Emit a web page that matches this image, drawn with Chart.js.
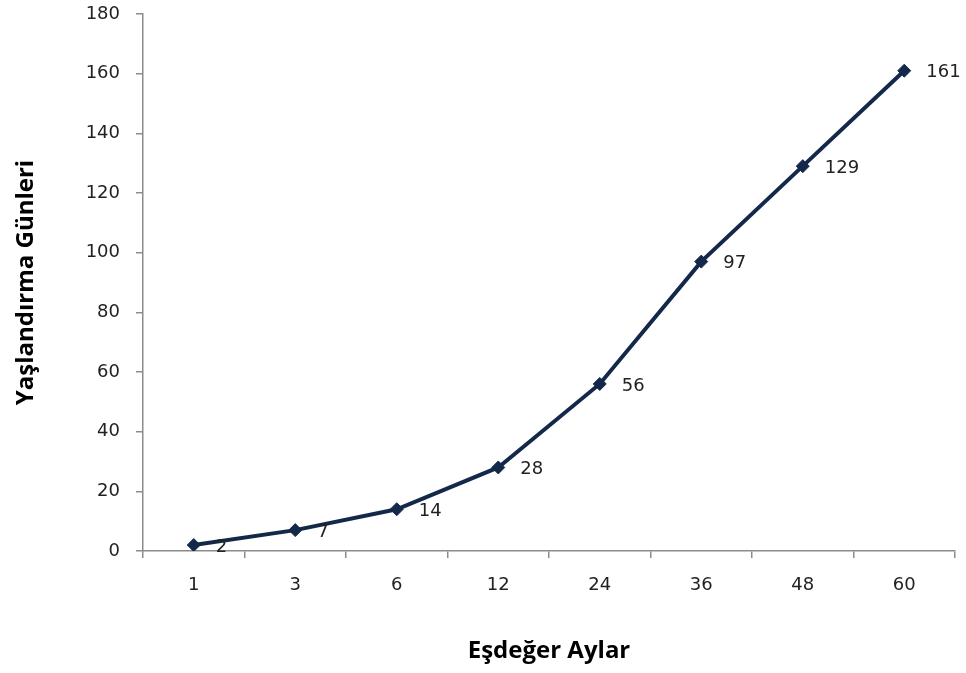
<!DOCTYPE html>
<html>
<head>
<meta charset="utf-8">
<script src="https://cdn.jsdelivr.net/npm/chart.js@4/dist/chart.umd.min.js"></script>
<style>
  html, body { margin: 0; padding: 0; background: #ffffff; }
  #wrap { width: 966px; height: 673px; }
</style>
</head>
<body>
<div id="wrap"><canvas id="c" width="966" height="673"></canvas></div>
<script>
const categories = ['1', '3', '6', '12', '24', '36', '48', '60'];
const agingDays = [2, 7, 14, 28, 56, 97, 129, 161];
const xTitle = 'Eşdeğer Aylar';
const yTitle = 'Yaşlandırma Günleri';

const FONT = '"Open Sans", sans-serif';
const TICKFONT = '"DejaVu Sans", sans-serif';
const LINE = '#14294a';
const AXIS = '#8c8c8c';
const TEXT = '#222222';

const dataLabels = {
  id: 'dataLabels',
  afterDatasetsDraw(chart) {
    const ctx = chart.ctx;
    const meta = chart.getDatasetMeta(0);
    ctx.save();
    ctx.font = '18px ' + TICKFONT;
    ctx.fillStyle = TEXT;
    ctx.textAlign = 'left';
    ctx.textBaseline = 'middle';
    meta.data.forEach((pt, i) => {
      ctx.fillText(String(chart.data.datasets[0].data[i]), pt.x + 22, pt.y + 2);
    });
    ctx.restore();
  }
};

new Chart(document.getElementById('c'), {
  type: 'line',
  data: {
    labels: categories,
    datasets: [{
      data: agingDays,
      borderColor: LINE,
      backgroundColor: LINE,
      borderWidth: 4,
      pointStyle: 'rectRot',
      pointRadius: 6.5,
      pointBorderWidth: 1,
      pointBorderColor: LINE,
      pointBackgroundColor: LINE,
      tension: 0,
      fill: false
    }]
  },
  options: {
    responsive: false,
    animation: false,
    layout: { padding: { top: 14, right: 11, left: 0, bottom: 0 } },
    plugins: { legend: { display: false }, tooltip: { enabled: false }, title: { display: false } },
    scales: {
      x: {
        type: 'category',
        offset: true,
        grid: { offset: true, drawOnChartArea: false, drawTicks: true, tickLength: 7, color: AXIS, lineWidth: 1.5 },
        border: { color: AXIS, width: 1.5 },
        ticks: { color: TEXT, font: { family: TICKFONT, size: 18 }, padding: 17, maxRotation: 0 },
        title: { display: true, text: xTitle, color: '#000', font: { family: FONT, size: 24, weight: 'bold' }, padding: { top: 0, bottom: 7 } },
        afterFit(scale) { scale.height = 122; scale.paddingLeft = 0; scale.paddingRight = 0; scale.paddingTop = 0; scale.paddingBottom = 0; }
      },
      y: {
        min: 0, max: 180,
        ticks: { stepSize: 20, color: TEXT, font: { family: TICKFONT, size: 18 }, padding: 16 },
        grid: { drawOnChartArea: false, drawTicks: true, tickLength: 7, color: AXIS, lineWidth: 1.5 },
        border: { color: AXIS, width: 1.5 },
        title: { display: true, text: yTitle, color: '#000', font: { family: FONT, size: 24, weight: 'bold' }, padding: { top: 12, bottom: 0 } },
        afterFit(scale) { scale.width = 143; scale.paddingTop = 0; scale.paddingBottom = 0; scale.paddingLeft = 0; scale.paddingRight = 0; }
      }
    }
  },
  plugins: [dataLabels]
});
</script>
</body>
</html>
